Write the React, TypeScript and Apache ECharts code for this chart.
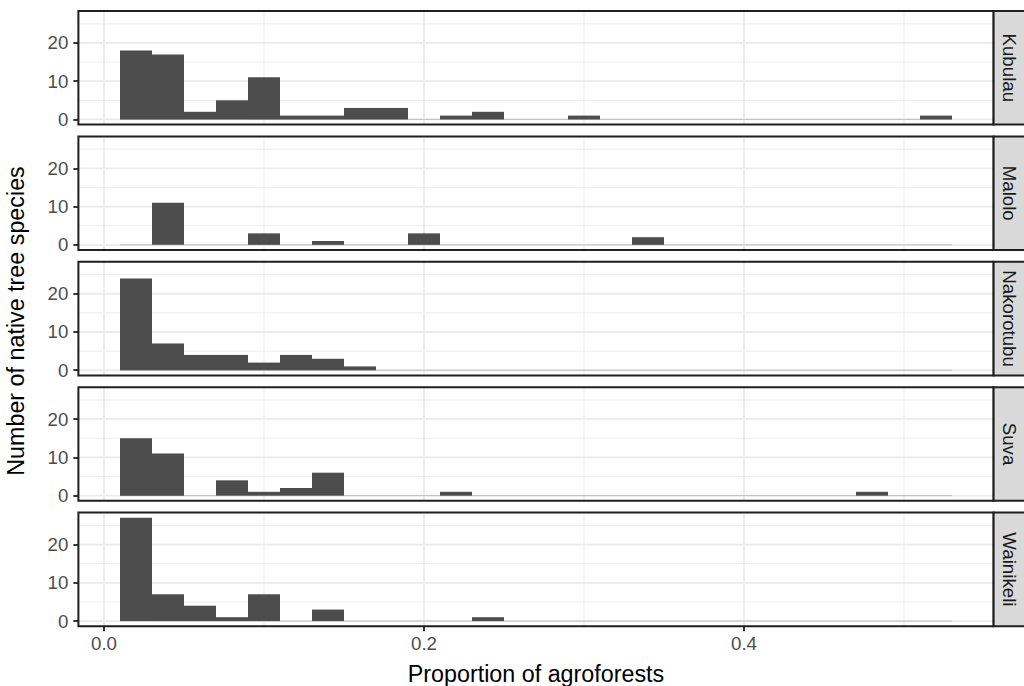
import React, { useEffect, useRef } from "react";
import * as echarts from "echarts";

// ---- data ----
const PANELS = ["Kubulau", "Malolo", "Nakorotubu", "Suva", "Wainikeli"];
const BIN_START = 0.01;
const BIN_WIDTH = 0.02;
const kubulau = [18, 17, 2, 5, 11, 1, 1, 3, 3, 0, 1, 2, 0, 0, 1, 0, 0, 0, 0, 0, 0, 0, 0, 0, 0, 1];
const malolo = [0, 11, 0, 0, 3, 0, 1, 0, 0, 3, 0, 0, 0, 0, 0, 0, 2, 0, 0, 0, 0, 0, 0, 0, 0, 0];
const nakorotubu = [24, 7, 4, 4, 2, 4, 3, 1, 0, 0, 0, 0, 0, 0, 0, 0, 0, 0, 0, 0, 0, 0, 0, 0, 0, 0];
const suva = [15, 11, 0, 4, 1, 2, 6, 0, 0, 0, 1, 0, 0, 0, 0, 0, 0, 0, 0, 0, 0, 0, 0, 1, 0, 0];
const wainikeli = [27, 7, 4, 1, 7, 0, 3, 0, 0, 0, 0, 1, 0, 0, 0, 0, 0, 0, 0, 0, 0, 0, 0, 0, 0, 0];
const COUNTS = [kubulau, malolo, nakorotubu, suva, wainikeli];

const X_MAJOR = [0, 0.2, 0.4];
const X_MINOR = [0.1, 0.3, 0.5];
const Y_MAJOR = [0, 10, 20];
const Y_MINOR = [5, 15, 25];
const X_MIN = -0.016;
const X_MAX = 0.556;
const Y_MIN = -1.35;
const Y_MAX = 28.35;

const X_TITLE = "Proportion of agroforests";
const Y_TITLE = "Number of native tree species";

// ---- layout ----
const W = 1024;
const H = 686;
const LEFT = 78.4;
const RIGHT_EDGE = 993.6;
const TOP0 = 11;
const PITCH = 125.4;
const PH = 113.6;
const FONT = "'Liberation Sans', Arial, Helvetica, sans-serif";
const BORDER = "#1F1F1F";

export default function App() {
  const ref = useRef<HTMLDivElement>(null);
  useEffect(() => {
    if (!ref.current) return;
    const chart = echarts.init(ref.current, undefined, { renderer: "svg" });

    const grids: any[] = [];
    const xAxes: any[] = [];
    const yAxes: any[] = [];
    const series: any[] = [];
    const graphics: any[] = [];

    PANELS.forEach((name, i) => {
      const top = TOP0 + PITCH * i;
      const last = i === PANELS.length - 1;
      grids.push({
        left: LEFT,
        width: RIGHT_EDGE - LEFT,
        top,
        height: PH,
        show: true,
        backgroundColor: "#FFFFFF",
        borderWidth: 0,
      });
      xAxes.push({
        type: "value",
        gridIndex: i,
        position: "bottom",
        min: X_MIN,
        max: X_MAX,
        axisLine: { show: false, onZero: false },
        splitLine: { show: false },
        axisTick: {
          show: last,
          customValues: X_MAJOR,
          length: 5,
          lineStyle: { color: BORDER, width: 1.8 },
        },
        axisLabel: {
          show: last,
          customValues: X_MAJOR,
          formatter: (v: number) => v.toFixed(1),
          color: "#4D4D4D",
          fontSize: 18.7,
          fontFamily: FONT,
          margin: 8,
        },
      });
      yAxes.push({
        type: "value",
        gridIndex: i,
        position: "left",
        min: Y_MIN,
        max: Y_MAX,
        axisLine: { show: false, onZero: false },
        splitLine: { show: false },
        axisTick: {
          show: true,
          customValues: Y_MAJOR,
          length: 5,
          lineStyle: { color: BORDER, width: 1.8 },
        },
        axisLabel: {
          show: true,
          customValues: Y_MAJOR,
          color: "#4D4D4D",
          fontSize: 18.7,
          fontFamily: FONT,
          margin: 10,
        },
      });

      const gridData: any[] = [];
      X_MAJOR.forEach((v) => gridData.push([0, v]));
      X_MINOR.forEach((v) => gridData.push([1, v]));
      Y_MAJOR.forEach((v) => gridData.push([2, v]));
      Y_MINOR.forEach((v) => gridData.push([3, v]));

      series.push({
        type: "custom",
        xAxisIndex: i,
        yAxisIndex: i,
        z: 1,
        silent: true,
        data: gridData,
        encode: { x: [], y: [] },
        renderItem: (params: any, api: any) => {
          const kind = api.value(0);
          const v = api.value(1);
          const cs = params.coordSys;
          const major = kind === 0 || kind === 2;
          const style = { stroke: "#EBEBEB", lineWidth: major ? 1.8 : 0.9 };
          if (kind < 2) {
            const x = api.coord([v, 0])[0];
            return { type: "line", shape: { x1: x, y1: cs.y, x2: x, y2: cs.y + cs.height }, style };
          }
          const y = api.coord([0, v])[1];
          return { type: "line", shape: { x1: cs.x, y1: y, x2: cs.x + cs.width, y2: y }, style };
        },
      });

      const counts = COUNTS[i];
      const barData = counts.map((c, k) => [BIN_START + k * BIN_WIDTH, BIN_START + (k + 1) * BIN_WIDTH, c]);
      series.push({
        type: "custom",
        name,
        xAxisIndex: i,
        yAxisIndex: i,
        z: 2,
        silent: true,
        data: barData,
        encode: { x: [0, 1], y: 2 },
        renderItem: (params: any, api: any) => {
          const x0 = api.value(0);
          const x1 = api.value(1);
          const c = api.value(2);
          const pTop = api.coord([x0, c]);
          const pBot = api.coord([x1, 0]);
          const base = {
            type: "line",
            shape: { x1: pTop[0], y1: pBot[1], x2: pBot[0], y2: pBot[1] },
            style: { stroke: "#BEBEBE", lineWidth: 1 },
          };
          if (!c) return base;
          return {
            type: "group",
            children: [
              base,
              {
                type: "rect",
                shape: { x: pTop[0], y: pTop[1], width: pBot[0] - pTop[0], height: pBot[1] - pTop[1] },
                style: { fill: "#4D4D4D" },
              },
            ],
          };
        },
      });

      // panel border
      graphics.push({
        type: "rect",
        z: 100,
        silent: true,
        shape: { x: LEFT, y: top, width: RIGHT_EDGE - LEFT, height: PH },
        style: { fill: "none", stroke: BORDER, lineWidth: 2 },
      });
      // strip
      graphics.push({
        type: "rect",
        z: 100,
        silent: true,
        shape: { x: RIGHT_EDGE, y: top, width: W - RIGHT_EDGE + 4, height: PH },
        style: { fill: "#D9D9D9", stroke: BORDER, lineWidth: 2 },
      });
      graphics.push({
        type: "text",
        z: 101,
        silent: true,
        x: (RIGHT_EDGE + W) / 2 + 0.5,
        y: top + PH / 2,
        rotation: -Math.PI / 2,
        style: {
          text: name,
          fill: "#1A1A1A",
          font: `18.7px ${FONT}`,
          align: "center",
          verticalAlign: "middle",
        },
      });
    });

    graphics.push({
      type: "text",
      silent: true,
      x: (LEFT + RIGHT_EDGE) / 2,
      y: 674,
      style: {
        text: X_TITLE,
        fill: "#000000",
        font: `23.3px ${FONT}`,
        align: "center",
        verticalAlign: "middle",
      },
    });
    graphics.push({
      type: "text",
      silent: true,
      x: 16,
      y: 321,
      rotation: Math.PI / 2,
      style: {
        text: Y_TITLE,
        fill: "#000000",
        font: `23.3px ${FONT}`,
        align: "center",
        verticalAlign: "middle",
      },
    });

    chart.setOption({
      animation: false,
      backgroundColor: "#FFFFFF",
      textStyle: { fontFamily: FONT },
      grid: grids,
      xAxis: xAxes,
      yAxis: yAxes,
      series,
      graphic: graphics,
    });
    return () => chart.dispose();
  }, []);
  return <div ref={ref} style={{ position: "absolute", left: 0, top: 0, width: W, height: H }} />;
}
